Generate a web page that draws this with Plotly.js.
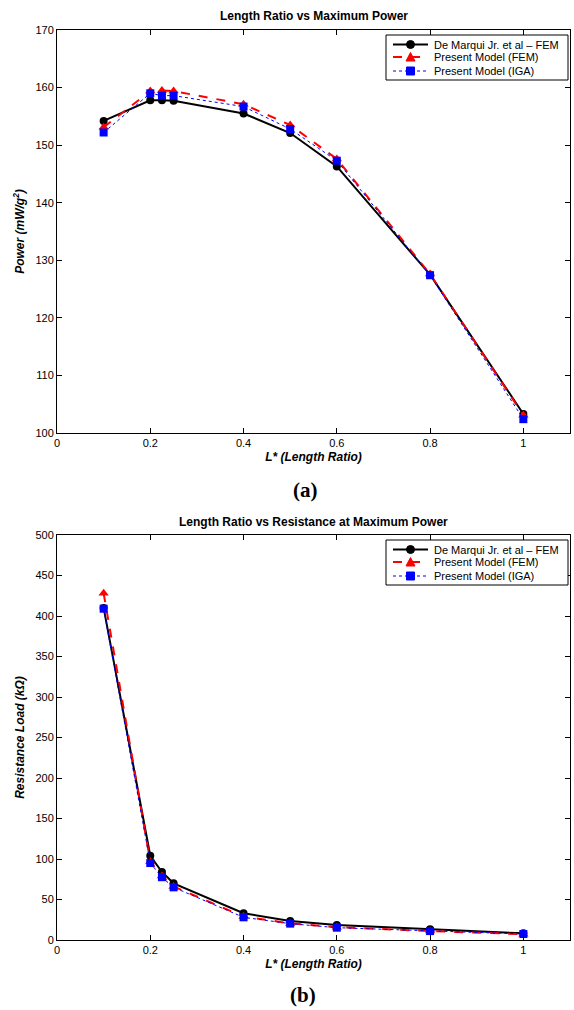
<!DOCTYPE html>
<html>
<head>
<meta charset="utf-8">
<script src="https://cdn.plot.ly/plotly-3.0.1.min.js"></script>
<style>html,body{margin:0;padding:0;background:#fff;}#chart{width:574px;height:1010px;}</style>
</head>
<body>
<div id="chart"></div>
<script>
// Length ratio values (L*)
const lengthRatio = [0.1, 0.2, 0.225, 0.25, 0.4, 0.5, 0.6, 0.8, 1.0];

// (a) Maximum power (mW/g^2)
const powerDeMarqui = [154.2, 157.8, 157.8, 157.7, 155.5, 152.1, 146.3, 127.5, 103.3];
const powerFEM      = [153.1, 159.4, 159.5, 159.4, 157.1, 153.5, 147.6, 127.6, 103.1];
const powerIGA      = [152.2, 159.0, 158.6, 158.6, 156.7, 152.8, 147.3, 127.4, 102.4];

// (b) Resistance at maximum power (kOhm)
const resDeMarqui = [410, 104, 84, 70, 33, 23.4, 18.5, 13.2, 8.2];
const resFEM      = [428, 97, 79, 66, 29, 20.5, 15.8, 11, 7.2];
const resIGA      = [409, 95, 77.5, 65, 28, 20.2, 15.2, 11, 7.4];

const xTicks = [0, 0.2, 0.4, 0.6, 0.8, 1];
const seriesNames = ['De Marqui Jr. et al \u2013 FEM', 'Present Model (FEM)', 'Present Model (IGA)'];

const W = 574, H = 1010;
const px = v => v / W;
const py = v => 1 - v / H;

const styles = [
  {line:{color:'black', width:2, dash:'solid'}, marker:{symbol:'circle', size:8, color:'black'}},
  {line:{color:'red', width:2, dash:'dash'}, marker:{symbol:'triangle-up', size:9, color:'red'}},
  {line:{color:'blue', width:1, dash:'dot'}, marker:{symbol:'square', size:8, color:'blue'}}
];

function mk(y, i, xa, ya) {
  return {x: lengthRatio, y: y, name: seriesNames[i], type:'scatter', mode:'lines+markers',
    xaxis: xa, yaxis: ya, showlegend:false, line: styles[i].line, marker: styles[i].marker};
}

const traces = [
  mk(powerDeMarqui, 0, 'x', 'y'),
  mk(powerFEM, 1, 'x', 'y'),
  mk(powerIGA, 2, 'x', 'y'),
  mk(resDeMarqui, 0, 'x2', 'y2'),
  mk(resFEM, 1, 'x2', 'y2'),
  mk(resIGA, 2, 'x2', 'y2')
];

const sans = 'Liberation Sans, Arial, sans-serif';
const tickFont = {family: sans, size:11, color:'black'};
const axTitleFont = {family: sans, size:12, color:'black', weight:'bold', style:'italic'};

function xax(anchor) {
  return {domain:[px(57), px(570)], anchor: anchor, range:[0, 1.1], tickvals: xTicks,
    ticktext: xTicks.map(String), ticks:'inside', ticklen:5, tickcolor:'black', mirror:'ticks',
    showline:true, linecolor:'black', linewidth:1, showgrid:false, zeroline:false,
    tickfont: tickFont,
    title:{text:'L* (Length Ratio)', font: axTitleFont, standoff: 4}};
}
function yax(anchor, dom, range, dtick, title) {
  return {domain: dom, anchor: anchor, range: range, dtick: dtick, ticks:'inside', ticklen:5,
    tickcolor:'black', mirror:'ticks', showline:true, linecolor:'black', linewidth:1,
    showgrid:false, zeroline:false, tickfont: tickFont,
    title:{text: title, font: axTitleFont, standoff: 8}};
}

// Hand-built legend boxes (to match the compact MATLAB legend)
const shapes = [];
const annotations = [];
function buildLegend(top) {
  const left = 386, right = 568, bottom = top + 45;
  shapes.push({type:'rect', xref:'paper', yref:'paper', x0:px(left), x1:px(right), y0:py(top), y1:py(bottom),
    line:{color:'black', width:1}, fillcolor:'white', layer:'above'});
  const rows = [top + 9.5, top + 22, top + 36];
  rows.forEach((ry, i) => {
    const st = styles[i];
    shapes.push({type:'line', xref:'paper', yref:'paper', x0:px(393), x1:px(428), y0:py(ry), y1:py(ry),
      line:{color: st.line.color, width: st.line.width, dash: st.line.dash}, layer:'above'});
    const cx = 410.5;
    if (i === 0) {
      shapes.push({type:'circle', xref:'paper', yref:'paper', x0:px(cx-4), x1:px(cx+4), y0:py(ry-4), y1:py(ry+4),
        fillcolor:'black', line:{color:'black', width:1}, layer:'above'});
    } else if (i === 1) {
      shapes.push({type:'path', xref:'paper', yref:'paper',
        path:`M ${px(cx-4.5)},${py(ry+4)} L ${px(cx+4.5)},${py(ry+4)} L ${px(cx)},${py(ry-4.5)} Z`,
        fillcolor:'red', line:{color:'red', width:1}, layer:'above'});
    } else {
      shapes.push({type:'rect', xref:'paper', yref:'paper', x0:px(cx-4), x1:px(cx+4), y0:py(ry-4), y1:py(ry+4),
        fillcolor:'blue', line:{color:'blue', width:1}, layer:'above'});
    }
    annotations.push({text: seriesNames[i], xref:'paper', yref:'paper', x:px(432), y:py(ry),
      xanchor:'left', yanchor:'middle', showarrow:false, font:{family: sans, size:11, color:'black'}});
  });
}
buildLegend(35);
buildLegend(540);

annotations.push(
  {text:'<b>Length Ratio vs Maximum Power</b>', xref:'paper', yref:'paper', x:px(313.5), y:py(16),
   xanchor:'center', yanchor:'middle', showarrow:false, font:{family: sans, size:12, color:'black'}},
  {text:'<b>Length Ratio vs Resistance at Maximum Power</b>', xref:'paper', yref:'paper', x:px(313.5), y:py(522),
   xanchor:'center', yanchor:'middle', showarrow:false, font:{family: sans, size:12, color:'black'}},
  {text:'<b>(a)</b>', xref:'paper', yref:'paper', x:px(305), y:py(490),
   xanchor:'center', yanchor:'middle', showarrow:false, font:{family:'Liberation Serif, Times New Roman, serif', size:21, color:'black'}},
  {text:'<b>(b)</b>', xref:'paper', yref:'paper', x:px(303), y:py(995),
   xanchor:'center', yanchor:'middle', showarrow:false, font:{family:'Liberation Serif, Times New Roman, serif', size:21, color:'black'}}
);

const layout = {
  width:W, height:H, margin:{l:0, r:0, t:0, b:0}, paper_bgcolor:'white', plot_bgcolor:'white',
  showlegend:false,
  xaxis: xax('y'),
  yaxis: yax('x', [py(433), py(30)], [100, 170], 10, 'Power (mW/g<sup>2</sup>)'),
  xaxis2: xax('y2'),
  yaxis2: yax('x2', [py(940), py(535)], [0, 500], 50, 'Resistance Load (k\u03a9)'),
  shapes: shapes,
  annotations: annotations
};

Plotly.newPlot('chart', traces, layout, {displayModeBar:false, staticPlot:true});
</script>
</body>
</html>
